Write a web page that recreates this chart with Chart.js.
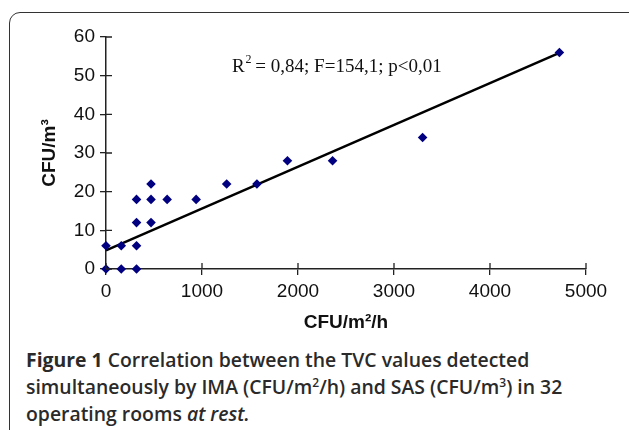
<!DOCTYPE html>
<html>
<head>
<meta charset="utf-8">
<script src="https://cdn.jsdelivr.net/npm/chart.js@4.4.1/dist/chart.umd.min.js"></script>
<style>
  html, body { margin: 0; padding: 0; background: #fff; overflow: hidden; }
  body { width: 629px; height: 430px; position: relative; }
  #frame {
    position: absolute; left: 9px; top: 12px; width: 700px; height: 500px;
    border: 1.5px solid #333; border-radius: 11px; box-sizing: border-box;
  }
  #wrap { position: absolute; left: 0; top: 0; width: 629px; height: 334px; }
  #caption {
    position: absolute; left: 26px; top: 346px; width: 600px;
    font-family: "Open Sans", sans-serif; font-size: 19.4px; font-weight: 600;
    line-height: 27px; color: #2a2a2a; white-space: nowrap;
  }
  #caption b { font-weight: 700; }
  #caption sup { font-size: 0.62em; line-height: 0; vertical-align: 0.6em; }
</style>
</head>
<body>
<div id="frame"></div>
<div id="wrap"><canvas id="myChart" width="629" height="334"></canvas></div>
<div id="caption"><b>Figure 1</b> Correlation between the TVC values detected<br>simultaneously by IMA (CFU/m<sup>2</sup>/h) and SAS (CFU/m<sup>3</sup>) in 32<br>operating rooms <i>at rest.</i></div>
<script>
// IMA (CFU/m2/h) vs SAS (CFU/m3), one entry per visible point
const imaValues = [0, 0, 159, 159, 318, 318, 318, 318, 469, 469, 469, 637, 939, 1257, 1572, 1890, 2360, 3298, 4723];
const sasValues = [0, 6, 0, 6, 0, 6, 12, 18, 12, 18, 22, 18, 18, 22, 22, 28, 28, 34, 56];

// regression line ends
const trendX = [0, 4723];
const trendY = [4.8, 55.9];

const xTicks = [0, 1000, 2000, 3000, 4000, 5000];
const yTicks = [0, 10, 20, 30, 40, 50, 60];

const points = imaValues.map((v, i) => ({ x: v, y: sasValues[i] }));
const trend = trendX.map((v, i) => ({ x: v, y: trendY[i] }));

// ticks in the reference cross the axis line, so draw the inner half too
const innerTicks = {
  id: "innerTicks",
  afterDraw(chart) {
    const ctx = chart.ctx;
    const xs = chart.scales.x;
    const ys = chart.scales.y;
    ctx.save();
    ctx.strokeStyle = "#222";
    ctx.lineWidth = 1.3;
    ctx.beginPath();
    xTicks.forEach((t) => {
      const px = xs.getPixelForValue(t);
      ctx.moveTo(px, ys.bottom);
      ctx.lineTo(px, ys.bottom - 6);
    });
    yTicks.forEach((t) => {
      const py = ys.getPixelForValue(t);
      ctx.moveTo(xs.left, py);
      ctx.lineTo(xs.left + 6, py);
    });
    ctx.stroke();

    // statistics note
    ctx.fillStyle = "#111";
    ctx.font = '19px "Liberation Serif", serif';
    ctx.textBaseline = "alphabetic";
    const tx = xs.getPixelForValue(1312);
    const ty = ys.getPixelForValue(50.9);
    ctx.fillText("R", tx, ty);
    const rw = ctx.measureText("R").width;
    ctx.font = '12px "Liberation Serif", serif';
    ctx.fillText("2", tx + rw + 1, ty - 9);
    ctx.font = '19px "Liberation Serif", serif';
    ctx.fillText(" = 0,84; F=154,1; p<0,01", tx + rw + 6, ty);
    ctx.restore();
  },
};

const ctx = document.getElementById("myChart").getContext("2d");
const myChart = new Chart(ctx, {
  type: "scatter",
  data: {
    datasets: [
      {
        label: "SAS",
        data: points,
        pointStyle: "rectRot",
        pointRadius: 4.8,
        backgroundColor: "#000080",
        borderColor: "#000080",
        borderWidth: 0,
        clip: false,
        order: 1,
      },
      {
        label: "trend",
        type: "line",
        data: trend,
        borderColor: "#000",
        borderWidth: 2.5,
        pointRadius: 0,
        fill: false,
        clip: false,
        order: 2,
      },
    ],
  },
  options: {
    responsive: false,
    animation: false,
    layout: { padding: { left: 38, right: 43, top: 37, bottom: 0 } },
    plugins: { legend: { display: false }, tooltip: { enabled: false } },
    scales: {
      x: {
        type: "linear",
        min: 0,
        max: 5000,
        afterBuildTicks: (scale) => {
          scale.ticks = xTicks.map((v) => ({ value: v }));
        },
        afterFit: (scale) => {
          scale.height = 65;
        },
        grid: { drawOnChartArea: false, tickLength: 6, color: "#222", lineWidth: 1.3 },
        border: { color: "#222", width: 1.5 },
        ticks: {
          color: "#111",
          font: { family: "Liberation Sans", size: 19 },
          padding: 5,
          callback: (v) => String(v),
        },
        title: {
          display: true,
          text: "CFU/m²/h",
          color: "#111",
          font: { family: "Liberation Sans", size: 19, weight: "bold" },
          padding: { top: 4, bottom: 0 },
        },
      },
      y: {
        type: "linear",
        min: 0,
        max: 60,
        afterBuildTicks: (scale) => {
          scale.ticks = yTicks.map((v) => ({ value: v }));
        },
        afterFit: (scale) => {
          scale.width = 68;
        },
        grid: { drawOnChartArea: false, tickLength: 6, color: "#222", lineWidth: 1.3 },
        border: { color: "#222", width: 1.5 },
        ticks: {
          color: "#111",
          font: { family: "Liberation Sans", size: 19 },
          padding: 5,
          callback: (v) => String(v),
        },
        title: {
          display: true,
          text: "CFU/m³",
          color: "#111",
          font: { family: "Liberation Sans", size: 19, weight: "bold" },
          padding: { top: 0, bottom: 4 },
        },
      },
    },
  },
  plugins: [innerTicks],
});
</script>
</body>
</html>
